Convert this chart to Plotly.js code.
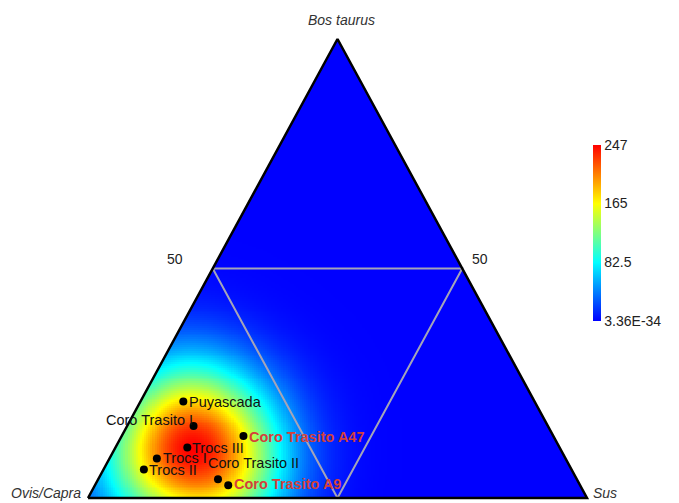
<!DOCTYPE html>
<html>
<head>
<meta charset="utf-8">
<script src="https://cdn.plot.ly/plotly-3.0.1.min.js"></script>
<style>
  html, body { margin: 0; padding: 0; background: #ffffff; }
  #chart { width: 679px; height: 503px; }
</style>
</head>
<body>
<div id="chart"></div>
<script>
// Faunal assemblages: share (%) of the three main domestic taxa per site/level
const sites = ['Puyascada', 'Coro Trasito I', 'Coro Trasito A47', 'Trocs III',
               'Trocs I', 'Trocs II', 'Coro Trasito II', 'Coro Trasito A9'];
const bosTaurus = [21.0, 15.7, 13.5, 11.0, 8.6, 6.2, 4.1, 2.8];
const ovisCapra = [70.4, 71.0, 62.1, 74.6, 81.9, 85.7, 71.9, 70.5];
const sus       = [8.6, 13.3, 24.4, 14.4, 9.5, 8.1, 24.0, 26.7];
const highlighted = [false, false, true, false, false, false, false, true];

const vertexLabels = ['Bos taurus', 'Ovis/Capra', 'Sus'];
const midTickLabel = '50';
const densityMin = 3.36e-34;
const densityMax = 247;
const colorbarTicks = [3.36e-34, 82.5, 165, 247];
const colorbarTickText = ['3.36E-34', '82.5', '165', '247'];

// ---- label placement (pixels) for the site annotations ----
const labelPlacement = [
  { xanchor: 'left',  dx: 4,   dy: 0 },
  { xanchor: 'right', dx: 1,   dy: 6 },
  { xanchor: 'left',  dx: 4,   dy: -1 },
  { xanchor: 'left',  dx: 3,   dy: 0 },
  { xanchor: 'left',  dx: 4,   dy: 1 },
  { xanchor: 'left',  dx: 3,   dy: 0 },
  { xanchor: 'left',  dx: -12, dy: 16 },
  { xanchor: 'left',  dx: 4,   dy: 1 }
];

// ternary (Bos, Ovis/Capra, Sus) -> plane: Ovis/Capra bottom-left, Sus bottom-right, Bos top
function toXY(bos, ovis, s) {
  const t = bos + ovis + s;
  const a = bos / t, c = s / t;
  return [c + a / 2, a];
}

const pts = sites.map((_, i) => toXY(bosTaurus[i], ovisCapra[i], sus[i]));
const px = pts.map(p => p[0]);
const py = pts.map(p => p[1]);

// ---- kernel density of the assemblages over the triangle ----
const NX = 240, NY = 240;
const H = 0.093;             // kernel bandwidth (fraction of side length)
const SQ = Math.sqrt(3) / 2;
const gx = [], gy = [];
for (let i = 0; i < NX; i++) gx.push((i + 0.5) / NX);
for (let j = 0; j < NY; j++) gy.push((j + 0.5) / NY);
let zmaxRaw = 0;
const raw = gy.map(y => gx.map(x => {
  if (x < y / 2 - 0.01 || x > 1 - y / 2 + 0.01) return null;
  let s = 0;
  for (let k = 0; k < px.length; k++) {
    const dx = x - px[k], dy = (y - py[k]) * SQ;
    s += Math.exp(-(dx * dx + dy * dy) / (2 * H * H));
  }
  if (s > zmaxRaw) zmaxRaw = s;
  return s;
}));
const z = raw.map(r => r.map(v => v === null ? null : densityMin + v / zmaxRaw * (densityMax - densityMin)));

const colorscale = [
  [0, 'rgb(0,0,255)'],
  [1 / 3, 'rgb(0,255,255)'],
  [2 / 3, 'rgb(255,255,0)'],
  [1, 'rgb(255,0,0)']
];

// ---- frame ----
const vB = toXY(0, 1, 0), vS = toXY(0, 0, 1), vA = toXY(1, 0, 0);
const mAB = toXY(50, 50, 0), mAS = toXY(50, 0, 50), mBS = toXY(0, 50, 50);

const traces = [
  {
    type: 'heatmap', x: gx, y: gy, z: z, zmin: 0, zmax: densityMax,
    zsmooth: false, colorscale: colorscale, hoverinfo: 'skip',
    colorbar: {
      x: 593 / 679, xanchor: 'left', xpad: 0,
      y: 1 - 233 / 503, yanchor: 'middle', ypad: 0,
      len: 176, lenmode: 'pixels', thickness: 8, thicknessmode: 'pixels',
      outlinewidth: 0, ticks: '', ticklabelpad: 3,
      tickvals: colorbarTicks, ticktext: colorbarTickText,
      tickfont: { family: 'Liberation Sans, Arial, sans-serif', size: 14, color: '#222' }
    }
  },
  // white outside the triangle edges
  {
    type: 'scatter', mode: 'lines', fill: 'toself', fillcolor: '#ffffff',
    line: { width: 0, color: '#ffffff' }, hoverinfo: 'skip',
    x: [vB[0], vA[0], vA[0], -0.1, -0.1], y: [vB[1], vA[1], 1.1, 1.1, vB[1]]
  },
  {
    type: 'scatter', mode: 'lines', fill: 'toself', fillcolor: '#ffffff',
    line: { width: 0, color: '#ffffff' }, hoverinfo: 'skip',
    x: [vS[0], vA[0], vA[0], 1.1, 1.1], y: [vS[1], vA[1], 1.1, 1.1, vS[1]]
  },
  // 50 % grid triangle
  {
    type: 'scatter', mode: 'lines', hoverinfo: 'skip',
    x: [mAB[0], mAS[0], mBS[0], mAB[0]], y: [mAB[1], mAS[1], mBS[1], mAB[1]],
    line: { color: '#a4a4b8', width: 2 }
  },
  // outer triangle
  {
    type: 'scatter', mode: 'lines', hoverinfo: 'skip',
    x: [vB[0], vS[0], vA[0], vB[0]], y: [vB[1], vS[1], vA[1], vB[1]],
    line: { color: '#000000', width: 2.5 }
  },
  // assemblages
  {
    type: 'scatter', mode: 'markers', x: px, y: py, text: sites,
    marker: { color: '#000000', size: 8 }, cliponaxis: false
  }
];

const txtFont = { family: 'Liberation Sans, Arial, sans-serif', size: 14.5, color: '#111' };
const annotations = sites.map((name, i) => ({
  x: px[i], y: py[i], xref: 'x', yref: 'y', showarrow: false,
  text: highlighted[i] ? '<b>' + name + '</b>' : name,
  xanchor: labelPlacement[i].xanchor, yanchor: 'middle',
  xshift: labelPlacement[i].dx, yshift: labelPlacement[i].dy,
  font: Object.assign({}, txtFont, { color: highlighted[i] ? '#d4403a' : '#111' })
}));

const vFont = { family: 'Liberation Sans, Arial, sans-serif', size: 14, color: '#333' };
annotations.push(
  { x: vA[0], y: vA[1], showarrow: false, text: '<i>' + vertexLabels[0] + '</i>',
    xanchor: 'center', yanchor: 'middle', xshift: 4, yshift: 19, font: vFont },
  { x: vB[0], y: vB[1], showarrow: false, text: '<i>' + vertexLabels[1] + '</i>',
    xanchor: 'right', yanchor: 'middle', xshift: -5, yshift: 5, font: vFont },
  { x: vS[0], y: vS[1], showarrow: false, text: '<i>' + vertexLabels[2] + '</i>',
    xanchor: 'left', yanchor: 'middle', xshift: 4, yshift: 5, font: vFont },
  { x: mAB[0], y: mAB[1], showarrow: false, text: midTickLabel,
    xanchor: 'center', yanchor: 'middle', xshift: -38, yshift: 10,
    font: Object.assign({}, vFont, { color: '#222' }) },
  { x: mAS[0], y: mAS[1], showarrow: false, text: midTickLabel,
    xanchor: 'center', yanchor: 'middle', xshift: 18, yshift: 10,
    font: Object.assign({}, vFont, { color: '#222' }) }
);

// frame placement on the page
const W = 679, HT = 503;
const frame = { left: 88, right: 587, top: 39, bottom: 498 };
const padX = 0.02, padY0 = 0.005, padY1 = 0.01;
const sx = frame.right - frame.left, sy = frame.bottom - frame.top;

const layout = {
  width: W, height: HT,
  margin: { l: 0, r: 0, t: 0, b: 0, pad: 0 },
  paper_bgcolor: '#ffffff', plot_bgcolor: '#ffffff',
  showlegend: false,
  xaxis: {
    range: [-padX, 1 + padX], visible: false, fixedrange: true,
    domain: [(frame.left - padX * sx) / W, (frame.right + padX * sx) / W]
  },
  yaxis: {
    range: [-padY0, 1 + padY1], visible: false, fixedrange: true,
    domain: [(HT - frame.bottom - padY0 * sy) / HT, (HT - frame.top + padY1 * sy) / HT]
  },
  annotations: annotations
};

Plotly.newPlot('chart', traces, layout, { displayModeBar: false, staticPlot: true });
</script>
</body>
</html>
